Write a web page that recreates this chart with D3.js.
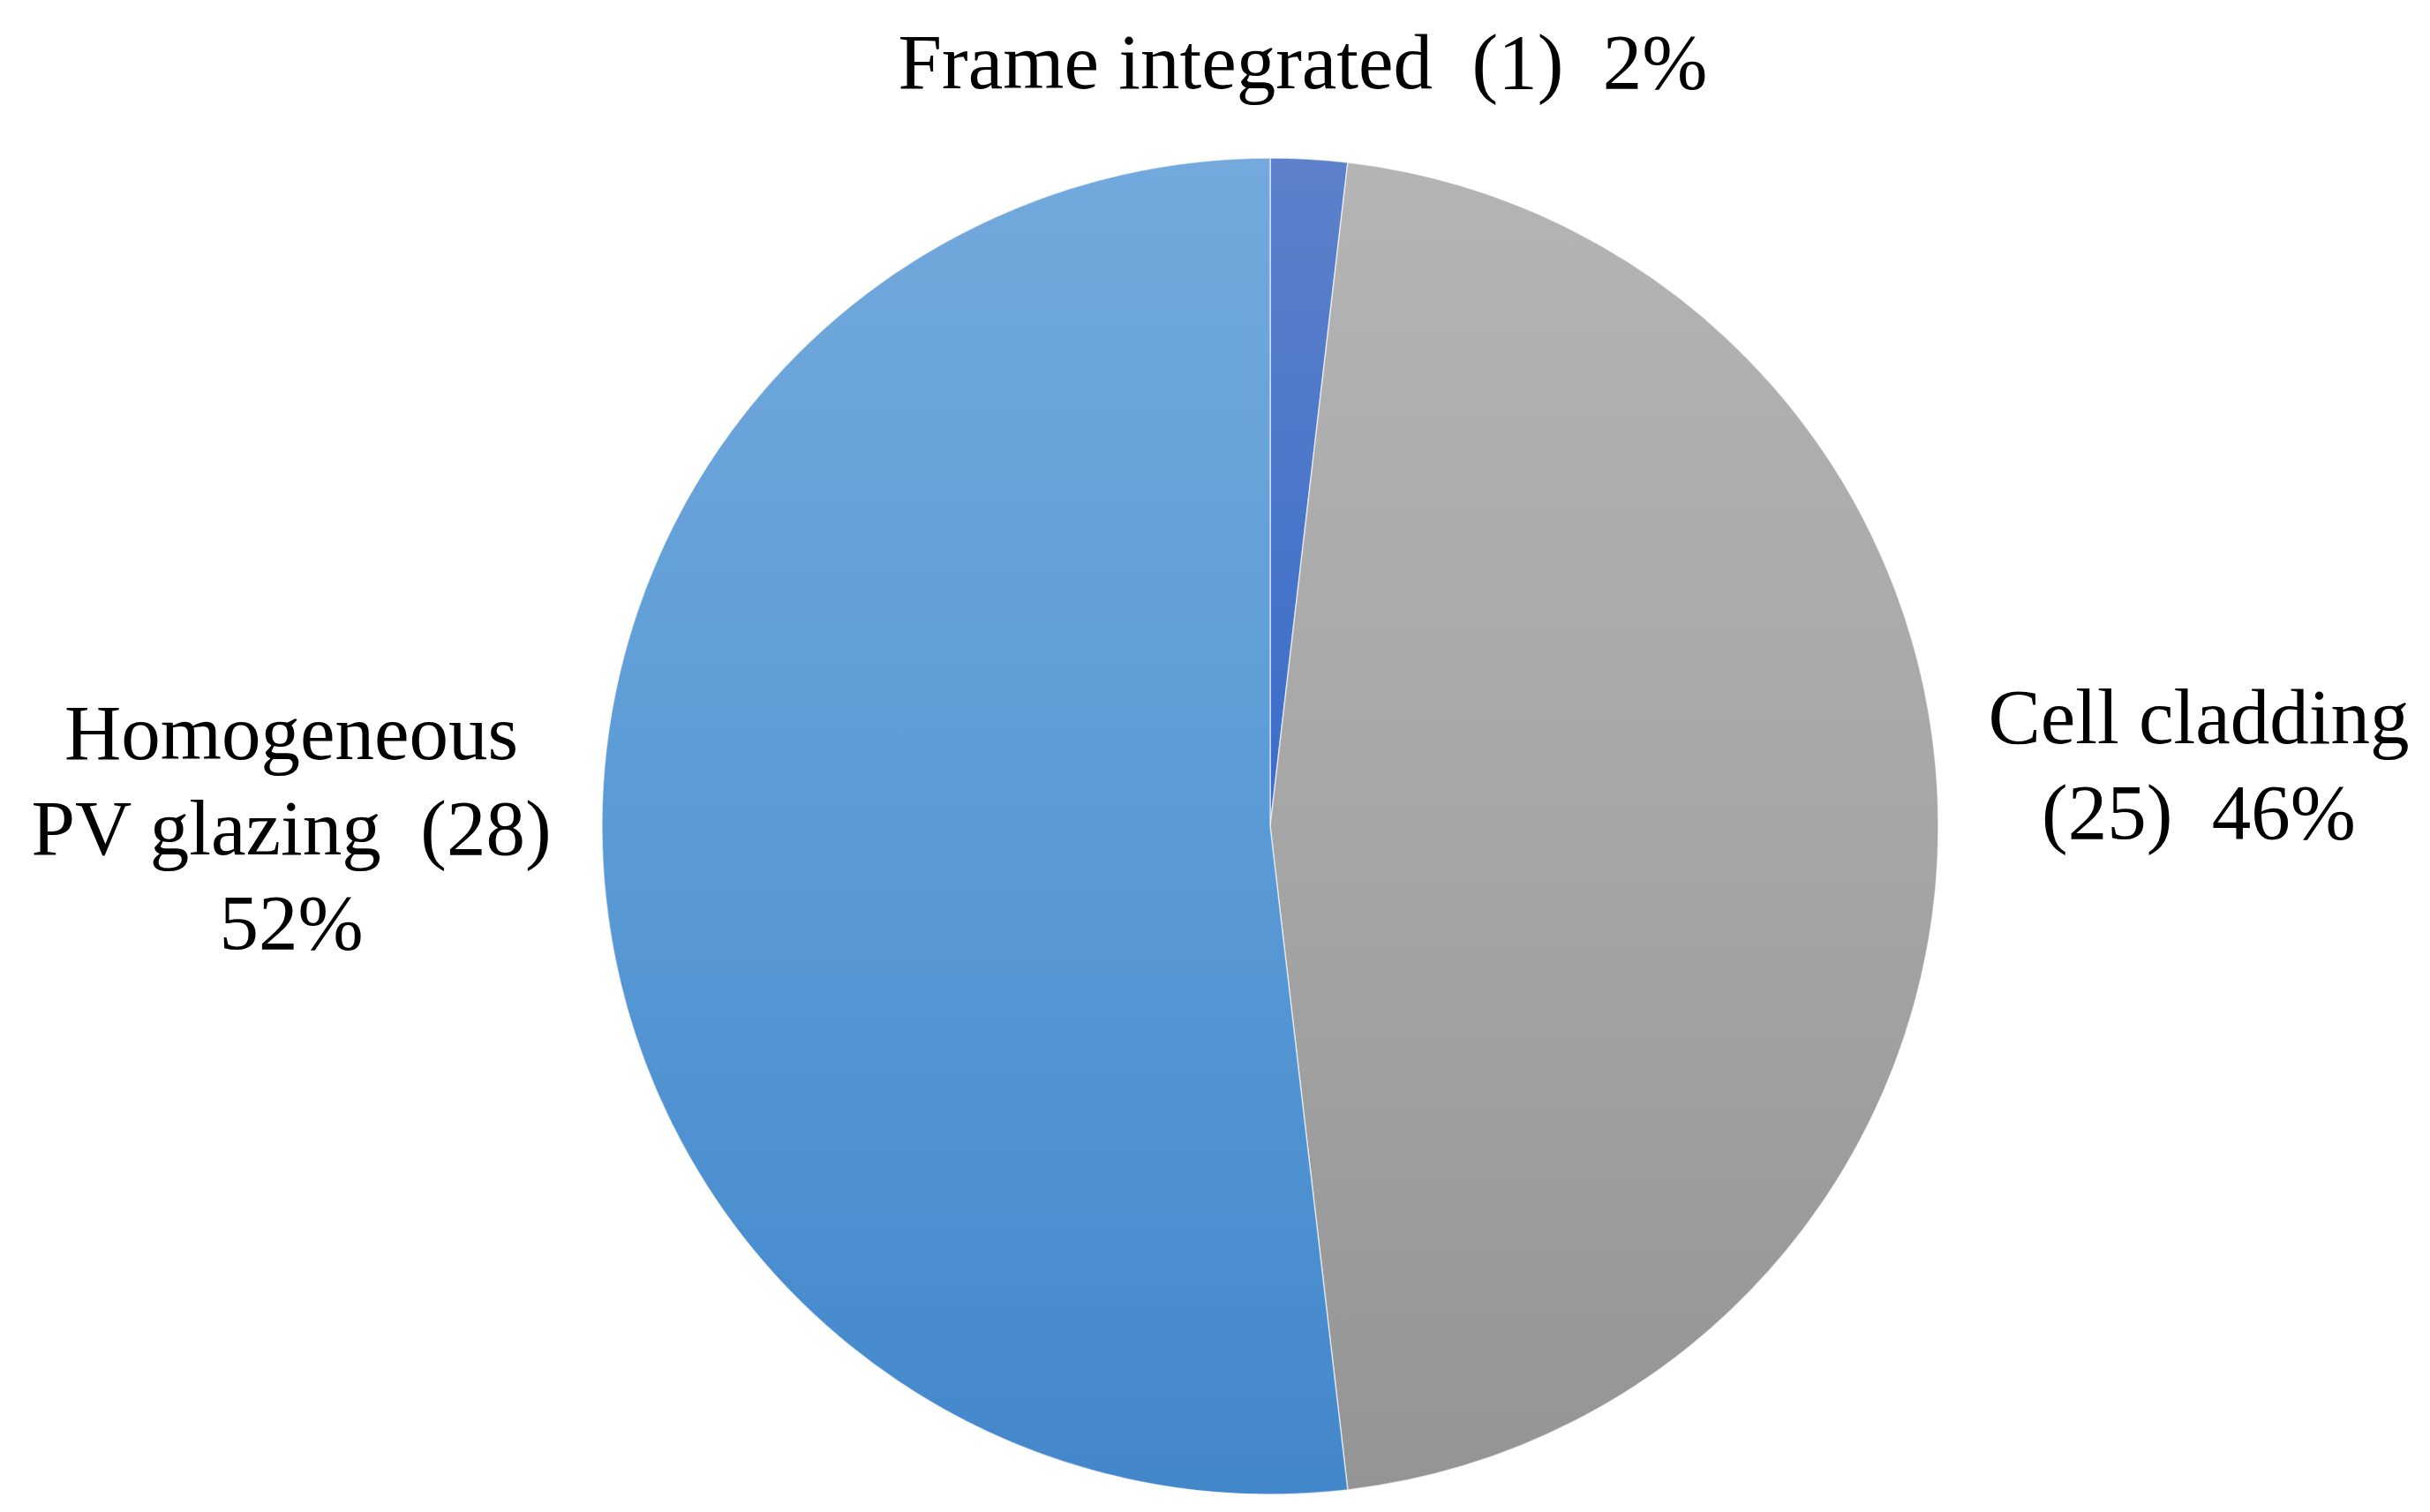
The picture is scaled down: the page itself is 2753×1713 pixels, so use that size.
<!DOCTYPE html>
<html>
<head>
<meta charset="utf-8">
<script src="https://cdn.jsdelivr.net/npm/d3@7"></script>
<style>
  html, body { margin: 0; padding: 0; background: #ffffff; }
  svg { display: block; }
  text { font-family: "Liberation Serif", "Times New Roman", serif; fill: #000; white-space: pre; }
</style>
</head>
<body>
<svg id="chart" width="2753" height="1713"></svg>
<script>
// ---- data ----
const categories = ["Frame integrated", "Cell cladding", "Homogeneous PV glazing"];
const counts = [1, 25, 28];
const labelLines = [
  ["Frame integrated  (1)  2%"],
  ["Cell cladding", "(25)  46%"],
  ["Homogeneous", "PV glazing  (28)", "52%"]
];
const gradientStops = [
  [["0%", "#5d81ca"], ["100%", "#3a6dca"]],
  [["0%", "#b4b4b4"], ["50%", "#a6a6a6"], ["100%", "#949494"]],
  [["0%", "#73a9dc"], ["50%", "#5a9bd6"], ["100%", "#4387cb"]]
];

// ---- layout ----
const W = 2753, H = 1713;
const cx = 1439, cy = 936, R = 757;
const fontSize = 89, lineH = 107.5;
const labelPos = [
  { x: 1476, y: 100 },
  { x: 2491, y: 842 },
  { x: 330, y: 860 }
];

const svg = d3.select("#chart");
svg.append("rect").attr("width", W).attr("height", H).attr("fill", "#fff");

const defs = svg.append("defs");
gradientStops.forEach((stops, i) => {
  const g = defs.append("linearGradient")
    .attr("id", "grad" + i)
    .attr("x1", 0).attr("y1", 0).attr("x2", 0).attr("y2", 1);
  stops.forEach(s => g.append("stop").attr("offset", s[0]).attr("stop-color", s[1]));
});

const data = categories.map((c, i) => ({ name: c, value: counts[i], idx: i }));
const pie = d3.pie().value(d => d.value).sort(null);
const arc = d3.arc().innerRadius(0).outerRadius(R);

const g = svg.append("g").attr("transform", `translate(${cx},${cy})`);
g.selectAll("path.slice")
  .data(pie(data))
  .join("path")
  .attr("class", "slice")
  .attr("d", arc)
  .attr("fill", d => `url(#grad${d.data.idx})`)
  .attr("stroke", "#ffffff")
  .attr("stroke-opacity", 0.6)
  .attr("stroke-width", 1.5);

// ---- labels ----
const lab = svg.append("g");
labelLines.forEach((lines, i) => {
  const t = lab.append("text")
    .attr("x", labelPos[i].x)
    .attr("y", labelPos[i].y)
    .attr("text-anchor", "middle")
    .attr("font-size", fontSize);
  lines.forEach((ln, j) => {
    t.append("tspan")
      .attr("x", labelPos[i].x)
      .attr("dy", j === 0 ? 0 : lineH)
      .text(ln);
  });
});
</script>
</body>
</html>
